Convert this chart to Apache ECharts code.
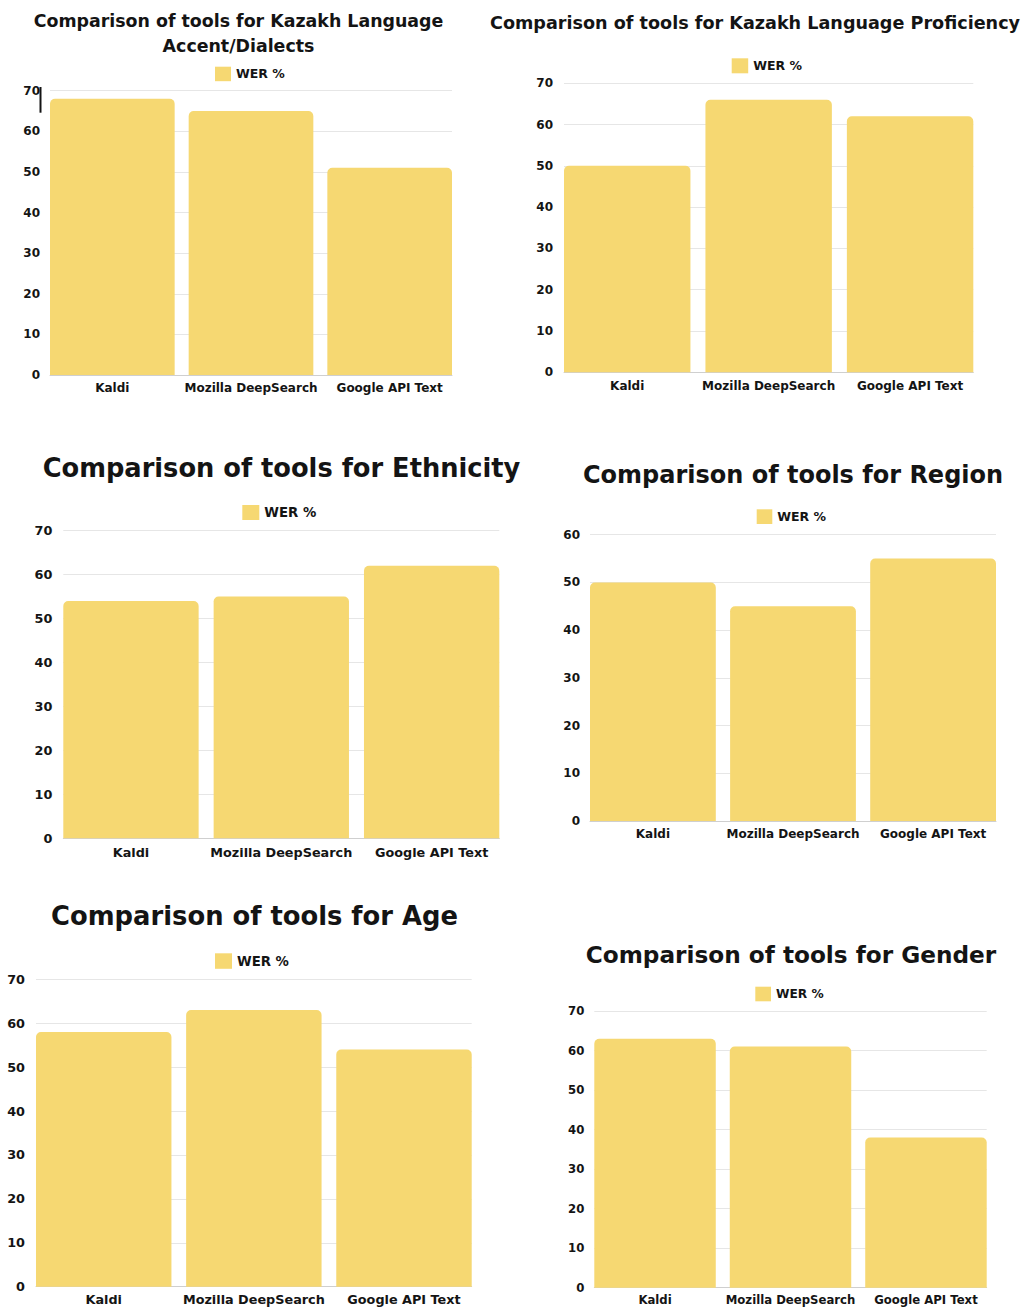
<!DOCTYPE html>
<html><head><meta charset="utf-8">
<script src="https://cdn.jsdelivr.net/npm/echarts@6/dist/echarts.min.js"></script>
<style>html,body{margin:0;padding:0;background:#fff}#c{width:1025px;height:1309px}</style>
</head><body><div id="c"></div>
<script>
// ---- data ----
const categories = ['Kaldi', 'Mozilla DeepSearch', 'Google API Text'];
const seriesName = 'WER %';
const chartTitles = [
  'Comparison of tools for Kazakh Language\nAccent/Dialects',
  'Comparison of tools for Kazakh Language Proficiency',
  'Comparison of tools for Ethnicity',
  'Comparison of tools for Region',
  'Comparison of tools for Age',
  'Comparison of tools for Gender'
];
const accentValues = [68, 65, 51];
const proficiencyValues = [50, 66, 62];
const ethnicityValues = [54, 55, 62];
const regionValues = [50, 45, 55];
const ageValues = [58, 63, 54];
const genderValues = [63, 61, 38];
const allValues = [accentValues, proficiencyValues, ethnicityValues, regionValues, ageValues, genderValues];
const axisMax = [70, 70, 70, 60, 70, 70];
const tickStep = 10;

// ---- layout (positions / styles only) ----
const panels = [
  {L:50,   R:452,   T:90.7,  B:375,    gap:14,   fs:12,   xm:6.5, ym:10, t:{cx:238.5, cy:33.5, fs:17.4, lh:25}, lg:{x:215,   y:66.7, w:16, h:14.5}},
  {L:564,  R:973.3, T:83.3,  B:372.3,  gap:15,   fs:12,   xm:7.5, ym:11, t:{cx:755,   cy:23,   fs:17.6}, lg:{x:731.7, y:58.3, w:16.5, h:15}},
  {L:63.3, R:499.3, T:530.7, B:838.3,  gap:15,   fs:12.8, xm:7.5, ym:11, t:{cx:281.5, cy:468,  fs:25.7}, lg:{x:242.3, y:505,  w:17, h:15}},
  {L:590,  R:996,   T:534.7, B:821,    gap:14.3, fs:12,   xm:7,   ym:10, t:{cx:793,   cy:475,  fs:24},   lg:{x:756.7, y:509.3,w:15.6, h:14.7}},
  {L:36,   R:471.7, T:979.3, B:1286.7, gap:14.7, fs:12.8, xm:6,   ym:11, t:{cx:254.5, cy:916,  fs:25.8}, lg:{x:215,   y:953.3,w:17, h:15.5}},
  {L:594.3,R:986.7, T:1011,  B:1287.7, gap:14,   fs:11.7, xm:6,   ym:10, t:{cx:791,   cy:954,  fs:23.2}, lg:{x:755.3, y:986.7,w:15.7, h:14.6}}
];
const FONT = '"DejaVu Sans", "Open Sans", sans-serif';
const BAR = '#f6d872';
const INK = '#141414';

const grid = [], xAxis = [], yAxis = [], series = [], title = [], legend = [];
panels.forEach((p, i) => {
  const W = p.R - p.L, H = p.B - p.T;
  // grid A: exact plot area (split lines, y labels, baseline)
  grid.push({left: p.L, top: p.T, width: W, height: H, containLabel: false, outerBoundsMode: 'none'});
  // grid B: widened so outer bars touch the plot edges
  grid.push({left: p.L - p.gap / 2, top: p.T, width: W + p.gap, height: H, containLabel: false, outerBoundsMode: 'none'});
  xAxis.push({gridIndex: 2*i, type: 'category', data: categories,
    axisLine: {show: true, lineStyle: {color: '#cfcfcf', width: 1}}, axisTick: {show: false}, axisLabel: {show: false}});
  xAxis.push({gridIndex: 2*i+1, type: 'category', data: categories,
    axisLine: {show: false}, axisTick: {show: false},
    axisLabel: {show: true, color: INK, fontFamily: FONT, fontWeight: 'bold', fontSize: p.fs, margin: p.xm, interval: 0}});
  yAxis.push({gridIndex: 2*i, type: 'value', min: 0, max: axisMax[i], interval: tickStep,
    axisLine: {show: false}, axisTick: {show: false},
    axisLabel: {color: INK, fontFamily: FONT, fontWeight: 'bold', fontSize: p.fs, margin: p.ym},
    splitLine: {show: true, lineStyle: {color: '#e6e6e6', width: 1}}});
  yAxis.push({gridIndex: 2*i+1, type: 'value', min: 0, max: axisMax[i], interval: tickStep, show: false, splitLine: {show: false}});
  const catW = (W + p.gap) / 3;
  series.push({type: 'bar', name: seriesName, xAxisIndex: 2*i+1, yAxisIndex: 2*i+1, data: allValues[i],
    barCategoryGap: (p.gap / catW * 100).toFixed(2) + '%',
    itemStyle: {color: BAR, borderRadius: [5, 5, 0, 0]}, emphasis: {disabled: true}, animation: false});
  title.push({text: chartTitles[i], left: p.t.cx, top: p.t.cy, padding: 0, textAlign: 'center', textVerticalAlign: 'middle',
    textStyle: {color: INK, fontFamily: FONT, fontWeight: 'bold', fontSize: p.t.fs, lineHeight: p.t.lh || p.t.fs * 1.3}});
  legend.push({data: [seriesName], left: p.lg.x, top: p.lg.y, padding: 0, icon: 'rect',
    itemWidth: p.lg.w, itemHeight: p.lg.h, selectedMode: false,
    textStyle: {color: INK, fontFamily: FONT, fontWeight: 'bold', fontSize: p.fs + 0.5}});
});

const chart = echarts.init(document.getElementById('c'), null, {renderer: 'svg'});
chart.setOption({
  animation: false,
  backgroundColor: '#ffffff',
  title, legend, grid, xAxis, yAxis, series,
  graphic: [{type: 'line', shape: {x1: 40.5, y1: 87, x2: 40.5, y2: 112.7}, style: {stroke: INK, lineWidth: 2}}]
});
</script></body></html>
